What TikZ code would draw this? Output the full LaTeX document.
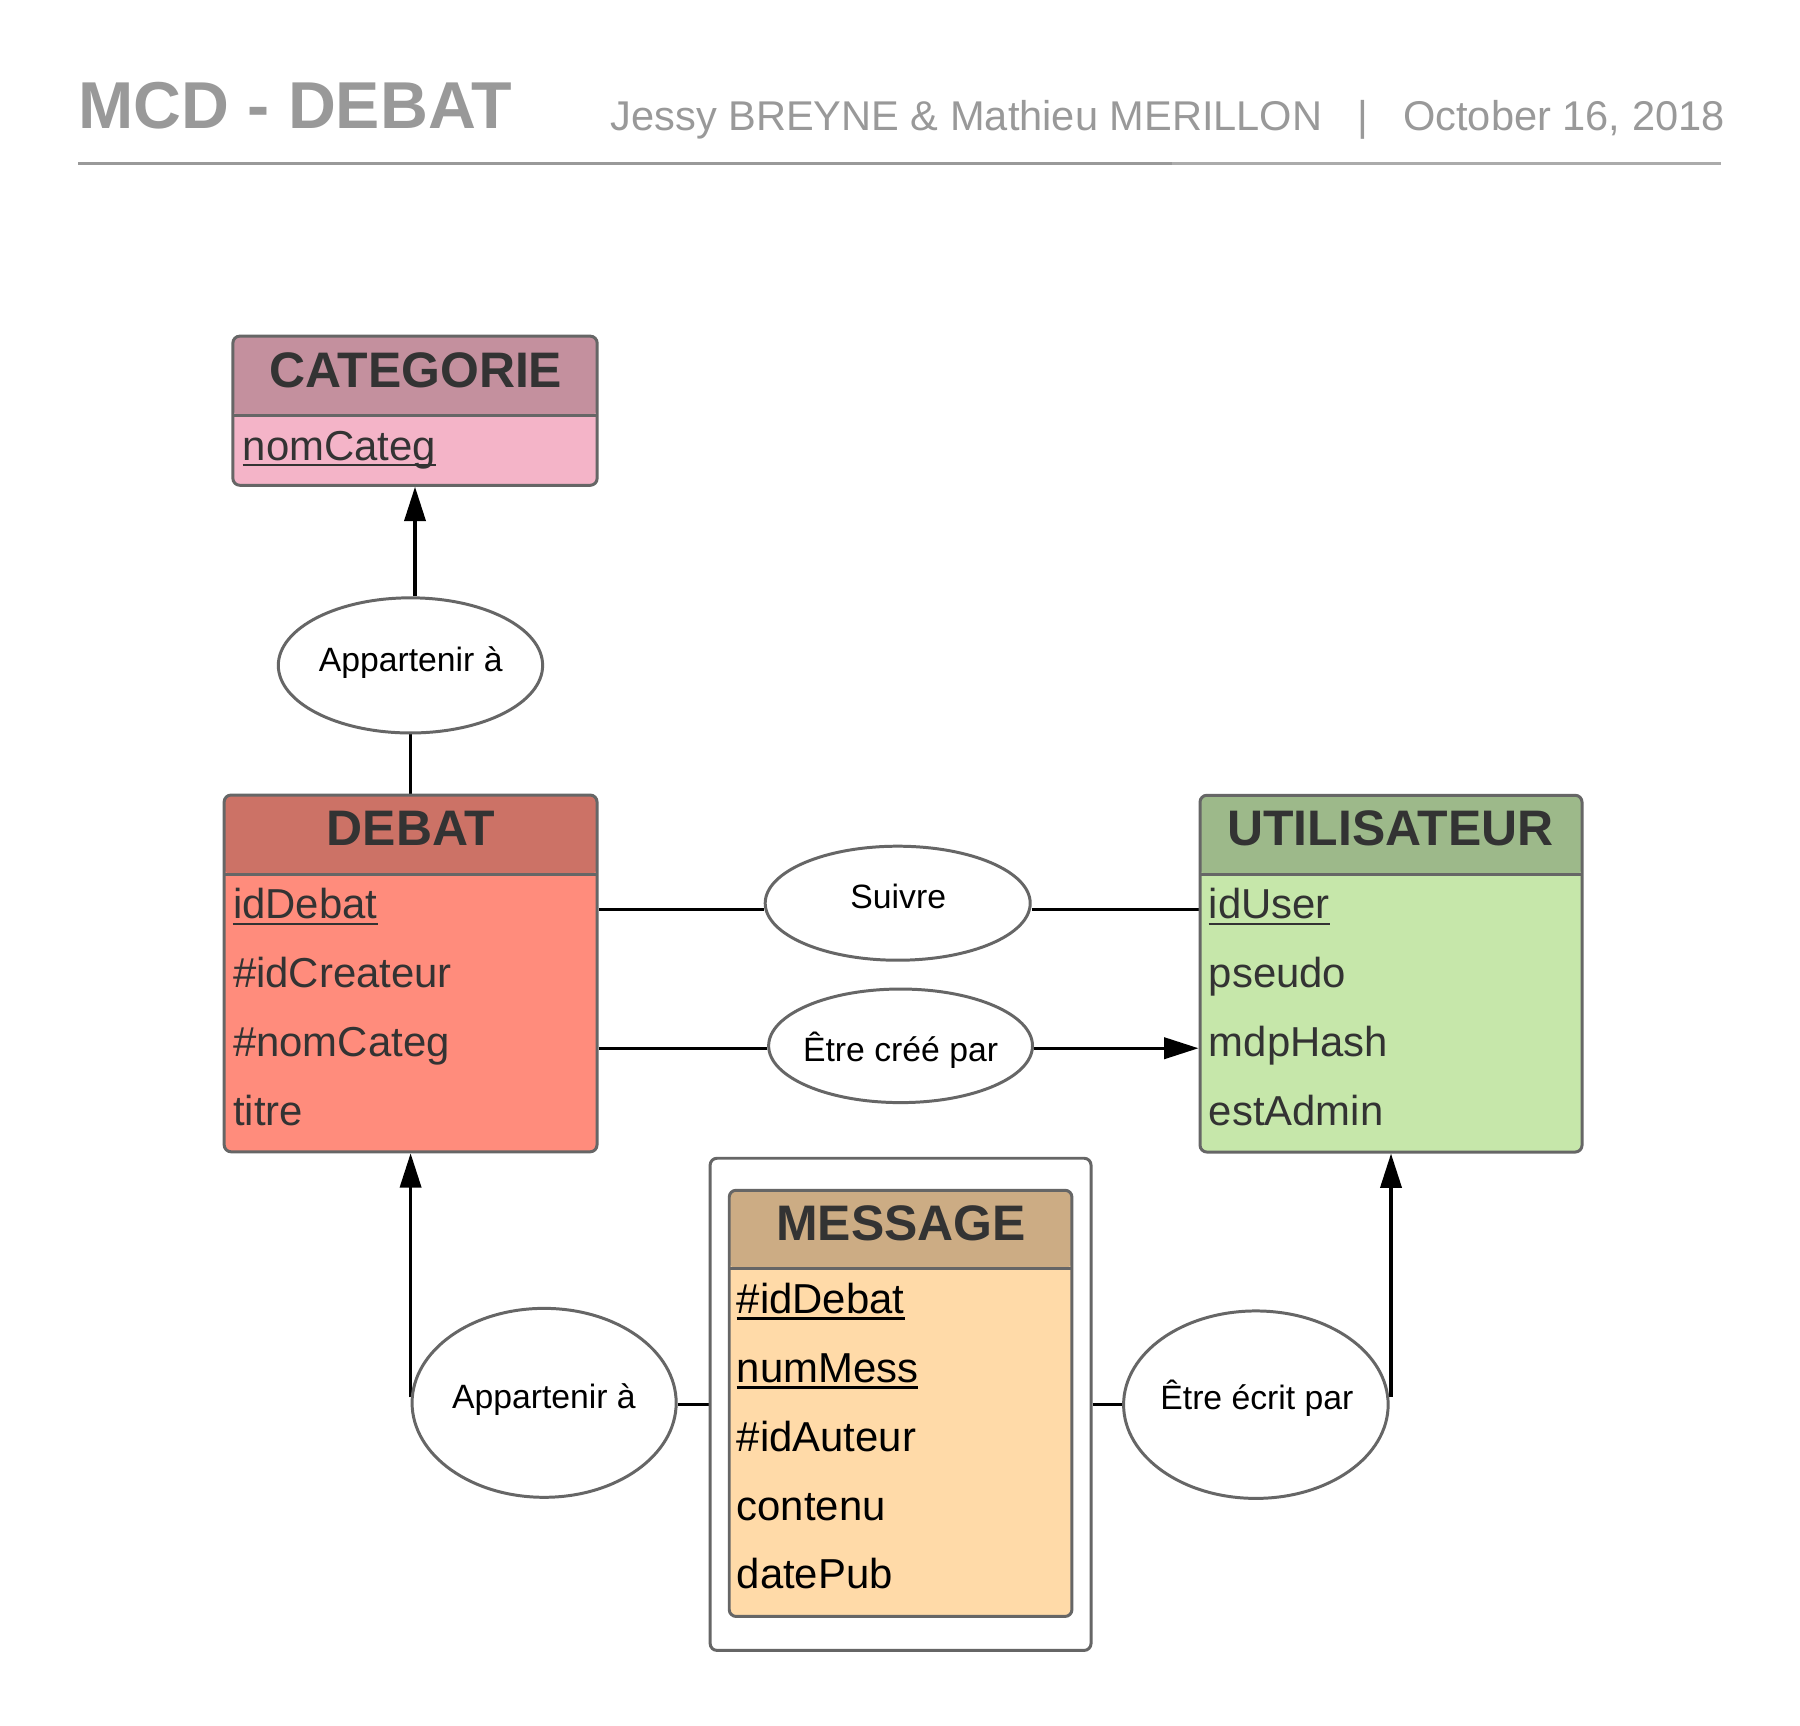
\documentclass[tikz,border=0pt]{standalone}
\usepackage{fontspec}
\setmainfont{Liberation Sans}
\usetikzlibrary{arrows.meta,shapes.geometric}
\definecolor{bordergray}{HTML}{666666}
\definecolor{txtdark}{HTML}{333333}
\definecolor{titlegray}{HTML}{999999}
\definecolor{linegrayB}{HTML}{ABABAB}
\definecolor{catHead}{HTML}{C4909E}
\definecolor{catBody}{HTML}{F4B4C8}
\definecolor{debHead}{HTML}{CC7266}
\definecolor{debBody}{HTML}{FF8C7C}
\definecolor{utiHead}{HTML}{9DB98A}
\definecolor{utiBody}{HTML}{C6E7AA}
\definecolor{msgHead}{HTML}{CCAC84}
\definecolor{msgBody}{HTML}{FFDAA8}
\pgfdeclarelayer{paper}
\pgfdeclarelayer{bg}
\pgfsetlayers{paper,bg,main}
\newcommand\fsz[1]{\fontsize{#1pt}{#1pt}\selectfont}
\begin{document}
\begin{tikzpicture}[x=1pt,y=-1pt,
  entity/.style n args={3}{draw=bordergray, line width=2.6pt, rounded corners=6pt, fill=#2, inner sep=0pt,
     path picture={\fill[#1] ([yshift=4pt]path picture bounding box.north west) rectangle ([yshift=-#3]path picture bounding box.north east);
       \draw[bordergray, line width=2.6pt] ([yshift=-#3]path picture bounding box.north west) -- ([yshift=-#3]path picture bounding box.north east);}},
  rel/.style={ellipse, draw=bordergray, line width=2.6pt, fill=white, inner sep=0pt},
  conn/.style={line width=2.8pt, draw=black},
  arr/.style={conn, -{Triangle[length=30pt,width=18.5pt]}},
  hdr/.style={anchor=base, inner sep=0pt, text=txtdark, font=\fsz{43.5}\bfseries},
  attr/.style={anchor=base west, inner sep=0pt, text=txtdark, font=\fsz{36.5}},
  attrb/.style={attr, text=black},
  rtxt/.style={anchor=base, inner sep=0pt, text=black, font=\fsz{29.4}},
  ul/.style={line width=2.2pt, draw=txtdark},
  ulb/.style={line width=2.2pt, draw=black},
  ttl/.style={inner sep=0pt, text=titlegray},
]
\begin{pgfonlayer}{paper}
\fill[white] (0,0) rectangle (1569,1504);
\end{pgfonlayer}
\useasboundingbox (0,0) rectangle (1569,1504);

% header
\node[ttl, anchor=base west, font=\fsz{57.8}\bfseries] (title) at (68,112) {MCD - DEBAT};
\node[ttl, anchor=base west, font=\fsz{36.25}] (authors) at (532,114) {Jessy BREYNE \& Mathieu MERILLON};
\node[ttl, anchor=base, font=\fsz{36.25}] (sep) at (1188,114) {|};
\node[ttl, anchor=base east, font=\fsz{36.25}] (date) at (1503.5,114) {October 16, 2018};
\coordinate (l0) at (68,142.5);
\coordinate (l1) at (1022,142.5);
\coordinate (l2) at (1500,142.5);
\draw[titlegray, line width=3pt] (l0) -- (l1);
\draw[linegrayB, line width=3pt] (l1) -- (l2);

% CATEGORIE
\node[entity={catHead}{catBody}{69pt}, minimum width=317.5pt, minimum height=130pt] (cat) at (361.75,358) {};
\node[hdr] (catT) at (362.4,337.4) {CATEGORIE};
\node[attr] (catA1) at (211.5,401) {nomCateg};
\draw[ul] ([yshift=-4.5pt]catA1.base west) -- ([yshift=-4.5pt]catA1.base east);

% DEBAT
\node[entity={debHead}{debBody}{69pt}, minimum width=325pt, minimum height=311pt] (deb) at (357.9,848.5) {};
\node[hdr] (debT) at (358.2,736.7) {DEBAT};
\node[attr] (debA1) at (203,801) {idDebat};
\node[attr] (debA2) at (203,861) {\#idCreateur};
\node[attr] (debA3) at (203,921) {\#nomCateg};
\node[attr] (debA4) at (203,981) {titre};
\draw[ul] ([yshift=-4.5pt]debA1.base west) -- ([yshift=-4.5pt]debA1.base east);

% UTILISATEUR
\node[entity={utiHead}{utiBody}{69pt}, minimum width=333pt, minimum height=311pt] (uti) at (1212.5,848.7) {};
\node[hdr] (utiT) at (1212,737) {UTILISATEUR};
\node[attr] (utiA1) at (1053.5,801) {idUser};
\node[attr] (utiA2) at (1053.5,861) {pseudo};
\node[attr] (utiA3) at (1053.5,921) {mdpHash};
\node[attr] (utiA4) at (1053.5,981) {estAdmin};
\draw[ul] ([yshift=-4.5pt]utiA1.base west) -- ([yshift=-4.5pt]utiA1.base east);

% MESSAGE (weak entity)
\node[draw=bordergray, line width=2.6pt, rounded corners=6pt, fill=white, inner sep=0pt,
      minimum width=332pt, minimum height=429pt] (msgo) at (785,1224.1) {};
\node[entity={msgHead}{msgBody}{68pt}, minimum width=298.7pt, minimum height=371.5pt] (msg) at (785,1223.25) {};
\node[hdr] (msgT) at (785.5,1081) {MESSAGE};
\node[attrb] (msgA1) at (642,1145) {\#idDebat};
\node[attrb] (msgA2) at (642,1205) {numMess};
\node[attrb] (msgA3) at (642,1265) {\#idAuteur};
\node[attrb] (msgA4) at (642,1325) {contenu};
\node[attrb] (msgA5) at (642,1385) {datePub};
\draw[ulb] ([yshift=-4.5pt]msgA1.base west) -- ([yshift=-4.5pt]msgA1.base east);
\draw[ulb] ([yshift=-4.5pt]msgA2.base west) -- ([yshift=-4.5pt]msgA2.base east);

% relationships
\node[rel, minimum width=230.4pt, minimum height=117.8pt] (r1) at (357.8,580) {};
\node[rtxt] (r1t) at (358,585) {Appartenir à};
\node[rel, minimum width=231pt, minimum height=99.4pt] (r2) at (782.5,787.3) {};
\node[rtxt] (r2t) at (783,791.5) {Suivre};
\node[rel, minimum width=230pt, minimum height=99pt] (r3) at (785,911.6) {};
\node[rtxt] (r3t) at (785,925.5) {Être créé par};
\node[rel, minimum width=230.2pt, minimum height=164.7pt] (r4) at (474.3,1222.8) {};
\node[rtxt] (r4t) at (474.1,1228) {Appartenir à};
\node[rel, minimum width=230.6pt, minimum height=163.4pt] (r5) at (1094.7,1224.4) {};
\node[rtxt] (r5t) at (1095.6,1229) {Être écrit par};

% connectors
\coordinate (ysu) at (0,792.5);
\coordinate (ycr) at (0,913.7);
\coordinate (yme) at (0,1224.2);
\coordinate (yv) at (0,1218);
\begin{pgfonlayer}{bg}
\draw[arr] (r1.north -| cat.south) -- (cat.south);
\draw[conn] (r1.south) -- (r1.south |- deb.north);
\draw[conn] (deb.east |- ysu) -- (r2.west |- ysu);
\draw[conn] (r2.east |- ysu) -- (uti.west |- ysu);
\draw[conn] (deb.east |- ycr) -- (r3.west |- ycr);
\draw[arr] (r3.east |- ycr) -- (uti.west |- ycr);
\draw[conn] (r4.east |- yme) -- (msgo.west |- yme);
\draw[conn] (msgo.east |- yme) -- (r5.west |- yme);
\draw[arr] (deb.south |- yv) -- (deb.south);
\draw[arr] (uti.south |- yv) -- (uti.south);
\end{pgfonlayer}
\end{tikzpicture}
\end{document}
